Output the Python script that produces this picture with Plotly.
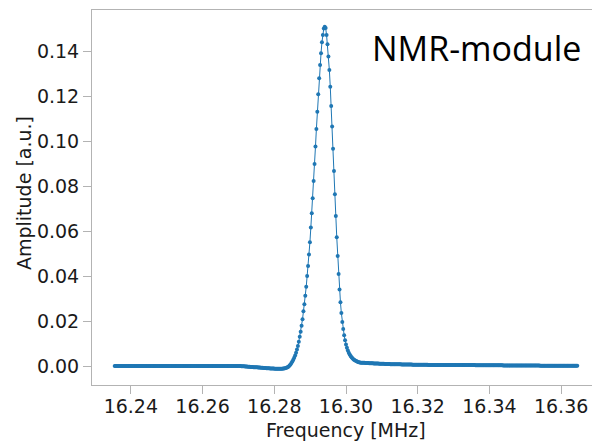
import numpy as np
import plotly.graph_objects as go

# Frequency sweep (MHz)
f_start = 16.2355
f_stop = 16.3645

# Amplitude [a.u.], one value per sweep point
amplitude = [
    # baseline
    0.0, 0.0, 0.0, 0.0, 0.0, 0.0, 0.0, 0.0, 0.0, 0.0, 0.0, 0.0, 0.0, 0.0, 0.0, 0.0, 0.0,
    0.0, 0.0, 0.0, 0.0, 0.0, 0.0, 0.0, 0.0, 0.0, 0.0, 0.0, 0.0, 0.0, 0.0, 0.0, 0.0, 0.0,
    0.0, 0.0, 0.0, 0.0, 0.0, 0.0, 0.0, 0.0, 0.0, 0.0, 0.0, 0.0, 0.0, 0.0, 0.0, 0.0, 0.0,
    0.0, 0.0, 0.0, 0.0, 0.0, 0.0, 0.0, 0.0, 0.0, 0.0, 0.0, 0.0, 0.0, 0.0, 0.0, 0.0, 0.0,
    0.0, 0.0, 0.0, 0.0, 0.0, 0.0, 0.0, 0.0, 0.0, 0.0, 0.0, 0.0, 0.0, 0.0, 0.0, 0.0, 0.0,
    0.0, 0.0, 0.0, 0.0, 0.0, 0.0, 0.0, 0.0, 0.0, 0.0, 0.0, 0.0, 0.0, 0.0, 0.0, 0.0, 0.0,
    0.0, 0.0, 0.0, 0.0, 0.0, 0.0, 0.0, 0.0, 0.0, 0.0, 0.0, 0.0, 0.0, 0.0, 0.0, 0.0, 0.0,
    0.0, 0.0, 0.0, 0.0, 0.0, 0.0, 0.0, 0.0, 0.0, 0.0, 0.0, 0.0, 0.0, 0.0, 0.0, 0.0, 0.0,
    # small dip before the resonance
    0.0000, -0.0001, -0.0001, -0.0001, -0.0001, -0.0002, -0.0002, -0.0002, -0.0003, -0.0003,
    -0.0003, -0.0004, -0.0004, -0.0004, -0.0005, -0.0005, -0.0006, -0.0006, -0.0006, -0.0007,
    -0.0007, -0.0007, -0.0008, -0.0008, -0.0008, -0.0009, -0.0009, -0.0009, -0.0010, -0.0010,
    -0.0010, -0.0010, -0.0011, -0.0011, -0.0011, -0.0011, -0.0011, -0.0012, -0.0012, -0.0012,
    -0.0012, -0.0012, -0.0012, -0.0012, -0.0012, -0.0012, -0.0011, -0.0011, -0.0010, -0.0009,
    -0.0007, -0.0005, -0.0002,
    # resonance peak
    0.0002, 0.0007, 0.0013, 0.0020, 0.0028, 0.0037, 0.0047, 0.0059, 0.0073, 0.0089,
    0.0108, 0.0130, 0.0152, 0.0179, 0.0208, 0.0243, 0.0274, 0.0312, 0.0352, 0.0400,
    0.0444, 0.0496, 0.0550, 0.0615, 0.0679, 0.0745, 0.0822, 0.0898, 0.0975, 0.1053,
    0.1130, 0.1208, 0.1279, 0.1338, 0.1390, 0.1439, 0.1471, 0.1500, 0.1508, 0.1502,
    0.1471, 0.1430, 0.1375, 0.1316, 0.1241, 0.1156, 0.1064, 0.0966, 0.0867, 0.0763,
    0.0667, 0.0572, 0.0489, 0.0409, 0.0340, 0.0283, 0.0235, 0.0196, 0.0164, 0.0137,
    0.0114, 0.0096, 0.0081, 0.0069, 0.0059, 0.0051, 0.0044, 0.0039, 0.0034, 0.0030,
    0.0027, 0.0024, 0.0022, 0.0020, 0.0018, 0.0017, 0.0016,
    # slowly decaying tail
    0.0015, 0.0015, 0.0014, 0.0014, 0.0014, 0.0013, 0.0013, 0.0013, 0.0013, 0.0012,
    0.0012, 0.0012, 0.0012, 0.0012, 0.0011, 0.0011, 0.0011, 0.0011, 0.0011, 0.0011,
    0.0010, 0.0010, 0.0010, 0.0010, 0.0010, 0.0010, 0.0009, 0.0009, 0.0009, 0.0009,
    0.0009, 0.0009, 0.0008, 0.0008, 0.0008, 0.0008, 0.0008, 0.0008, 0.0008, 0.0008,
    0.0008, 0.0008, 0.0008, 0.0008, 0.0007, 0.0007, 0.0007, 0.0007, 0.0007, 0.0007,
    0.0007, 0.0007, 0.0007, 0.0007, 0.0007, 0.0007, 0.0006, 0.0006, 0.0006, 0.0006,
    0.0006, 0.0006, 0.0006, 0.0006, 0.0006, 0.0006, 0.0006, 0.0006, 0.0006, 0.0006,
    0.0006, 0.0006, 0.0006, 0.0005, 0.0005, 0.0005, 0.0005, 0.0005, 0.0005, 0.0005,
    0.0005, 0.0005, 0.0005, 0.0005, 0.0005, 0.0005, 0.0005, 0.0005, 0.0005, 0.0005,
    0.0005, 0.0005, 0.0005, 0.0005, 0.0004, 0.0004, 0.0004, 0.0004, 0.0004, 0.0004,
    0.0004, 0.0004, 0.0004, 0.0004, 0.0004, 0.0004, 0.0004, 0.0004, 0.0004, 0.0004,
    0.0004, 0.0004, 0.0004, 0.0004, 0.0004, 0.0004, 0.0004, 0.0004, 0.0004, 0.0004,
    0.0004, 0.0004, 0.0004, 0.0004, 0.0003, 0.0003, 0.0003, 0.0003, 0.0003, 0.0003,
    0.0003, 0.0003, 0.0003, 0.0003, 0.0003, 0.0003, 0.0003, 0.0003, 0.0003, 0.0003,
    0.0003, 0.0003, 0.0003, 0.0003, 0.0003, 0.0003, 0.0003, 0.0003, 0.0003, 0.0003,
    0.0003, 0.0003, 0.0003, 0.0003, 0.0002, 0.0002, 0.0002, 0.0002, 0.0002, 0.0002,
    0.0002, 0.0002, 0.0002, 0.0002, 0.0002, 0.0002, 0.0002, 0.0002, 0.0002, 0.0002,
    0.0002, 0.0002, 0.0002, 0.0002, 0.0002, 0.0002, 0.0002, 0.0002, 0.0002, 0.0002,
    0.0002, 0.0002, 0.0002, 0.0002, 0.0002, 0.0002, 0.0002, 0.0002, 0.0002, 0.0002,
    0.0002, 0.0002, 0.0002, 0.0002, 0.0001, 0.0001, 0.0001, 0.0001, 0.0001, 0.0001,
    0.0001, 0.0001, 0.0001, 0.0001, 0.0001, 0.0001, 0.0001, 0.0001, 0.0001, 0.0001,
    0.0001, 0.0001, 0.0001, 0.0001, 0.0001, 0.0001, 0.0001, 0.0001, 0.0001, 0.0001,
    0.0001, 0.0001, 0.0001, 0.0001, 0.0001, 0.0001, 0.0001, 0.0001, 0.0001, 0.0001,
    0.0001, 0.0001, 0.0001, 0.0001, 0.0001,
]

frequency = np.linspace(f_start, f_stop, len(amplitude))

x_ticks = [16.24, 16.26, 16.28, 16.30, 16.32, 16.34, 16.36]
x_tick_labels = ["16.24", "16.26", "16.28", "16.30", "16.32", "16.34", "16.36"]
y_ticks = [0.00, 0.02, 0.04, 0.06, 0.08, 0.10, 0.12, 0.14]
y_tick_labels = ["0.00", "0.02", "0.04", "0.06", "0.08", "0.10", "0.12", "0.14"]

x_title = "Frequency [MHz]"
y_title = "Amplitude [a.u.]"
label_text = "NMR-module"

BLUE = "#1f77b4"
SPINE = "#b3b3b3"
TXT = "#1a1a1a"
FONT = "DejaVu Sans"

fig = go.Figure()
fig.add_trace(go.Scatter(
    x=frequency, y=amplitude, mode="lines+markers",
    line=dict(color=BLUE, width=1),
    marker=dict(color=BLUE, size=4, line=dict(width=0)),
    showlegend=False, hoverinfo="skip",
))

axis_common = dict(
    showgrid=False, zeroline=False, showline=True, linecolor=SPINE, linewidth=1,
    ticks="outside", ticklen=8, tickwidth=1, tickcolor=SPINE,
    tickfont=dict(family=FONT, size=19, color=TXT),
)

fig.update_layout(
    width=592, height=441,
    margin=dict(l=92, r=0, t=10, b=56, autoexpand=False),
    paper_bgcolor="white", plot_bgcolor="white",
    hovermode=False,
    xaxis=dict(range=[16.229166, 16.368604], tickvals=x_ticks, ticktext=x_tick_labels,
               mirror=True, automargin=False, ticklabelstandoff=-4, **axis_common),
    yaxis=dict(range=[-0.008444, 0.15822], tickvals=y_ticks, ticktext=y_tick_labels,
               mirror=False, automargin=False, **axis_common),
    annotations=[
        dict(text=x_title, xref="paper", yref="paper", x=0.508, y=-0.1187,
             xanchor="center", yanchor="middle", showarrow=False,
             font=dict(family=FONT, size=19, color=TXT)),
        dict(text=y_title, xref="paper", yref="paper", x=-0.136, y=0.512,
             xanchor="center", yanchor="middle", showarrow=False, textangle=-90,
             font=dict(family=FONT, size=19, color=TXT)),
        dict(text=label_text, xref="paper", yref="paper", x=0.769, y=0.8987,
             xanchor="center", yanchor="middle", showarrow=False,
             font=dict(family="Open Sans", size=34, color="#000000")),
    ],
)

fig.write_html(
    "out.html",
    include_plotlyjs=True,
    config={"displayModeBar": False, "staticPlot": True},
    post_script="document.body.style.margin='0px'; document.body.style.overflow='hidden';",
)
